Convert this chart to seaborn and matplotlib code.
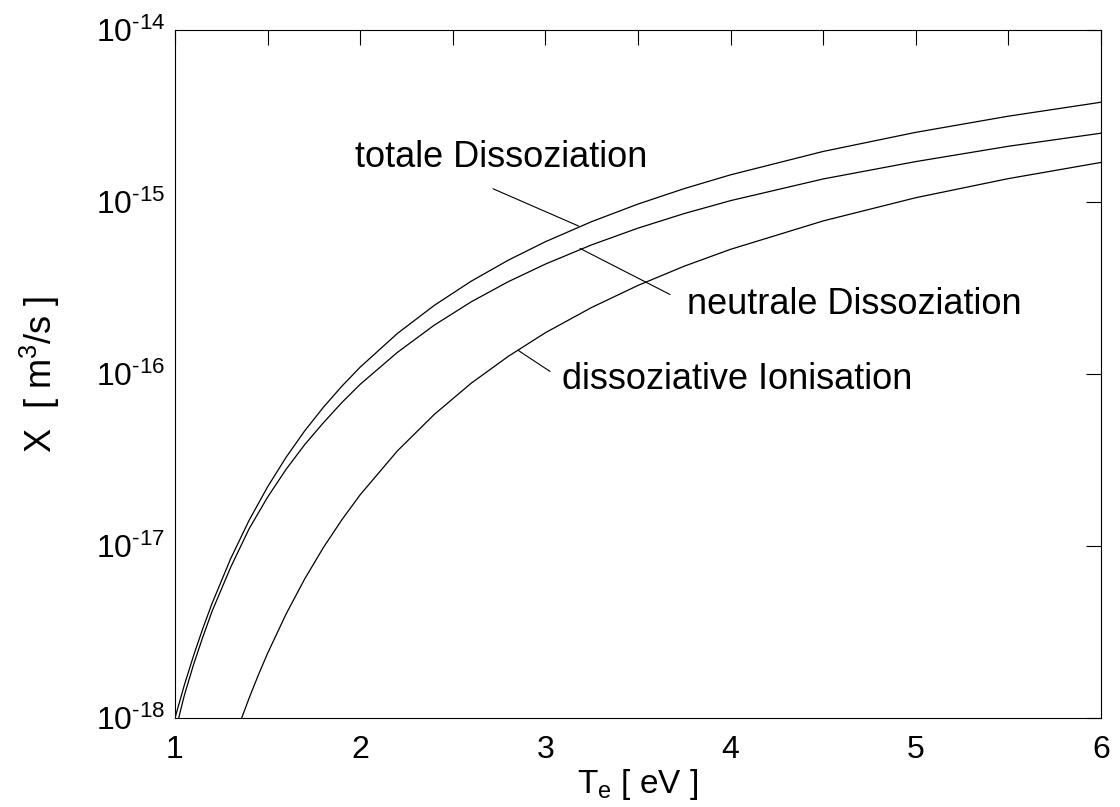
import numpy as np
import pandas as pd
import matplotlib
matplotlib.use("Agg")
import matplotlib.pyplot as plt
import seaborn as sns
from matplotlib.ticker import MultipleLocator, FixedLocator, FixedFormatter, NullLocator

# ---------------- data ----------------
# electron temperature T_e [eV] and log10 of the rate coefficient X [m^3/s]
te_total = [1.00, 1.05, 1.10, 1.15, 1.20, 1.30, 1.40, 1.50, 1.60, 1.70, 1.80, 1.90, 2.00,
            2.20, 2.40, 2.60, 2.80, 3.00, 3.25, 3.50, 3.75, 4.00, 4.50, 5.00, 5.50, 6.00]
log_total = [-18.000, -17.810, -17.638, -17.480, -17.334, -17.075, -16.851, -16.656, -16.484,
             -16.331, -16.195, -16.072, -15.960, -15.765, -15.601, -15.460, -15.338, -15.231,
             -15.114, -15.012, -14.922, -14.842, -14.706, -14.595, -14.501, -14.420]

te_neutral = [1.02, 1.05, 1.10, 1.15, 1.20, 1.30, 1.40, 1.50, 1.60, 1.70, 1.80, 1.90, 2.00,
              2.20, 2.40, 2.60, 2.80, 3.00, 3.25, 3.50, 3.75, 4.00, 4.50, 5.00, 5.50, 6.00]
log_neutral = [-18.000, -17.870, -17.690, -17.530, -17.380, -17.125, -16.900, -16.716, -16.554,
               -16.411, -16.285, -16.167, -16.060, -15.875, -15.716, -15.580, -15.463, -15.361,
               -15.249, -15.152, -15.067, -14.992, -14.866, -14.765, -14.676, -14.600]

te_ion = [1.36, 1.40, 1.45, 1.50, 1.60, 1.70, 1.80, 1.90, 2.00, 2.20, 2.40, 2.60, 2.80,
          3.00, 3.25, 3.50, 3.75, 4.00, 4.50, 5.00, 5.50, 6.00]
log_ion = [-18.000, -17.885, -17.750, -17.624, -17.395, -17.192, -17.011, -16.849, -16.702,
           -16.448, -16.235, -16.053, -15.897, -15.760, -15.613, -15.485, -15.373, -15.275,
           -15.110, -14.975, -14.864, -14.770]

series_names = ["totale Dissoziation", "neutrale Dissoziation", "dissoziative Ionisation"]

x_ticks = [1, 2, 3, 4, 5, 6]
x_tick_labels = ["1", "2", "3", "4", "5", "6"]
y_ticks = [1e-18, 1e-17, 1e-16, 1e-15, 1e-14]
y_tick_labels = [r"$\mathregular{10^{\text{-}18}}$", r"$\mathregular{10^{\text{-}17}}$",
                 r"$\mathregular{10^{\text{-}16}}$", r"$\mathregular{10^{\text{-}15}}$",
                 r"$\mathregular{10^{\text{-}14}}$"]

x_label = r"T$_\mathregular{e}$ [ eV ]"
y_label = r"X  [ m$^\mathregular{3}$/s ]"

# ---------------- table ----------------
frames = []
for name, te, lg in zip(series_names,
                        [te_total, te_neutral, te_ion],
                        [log_total, log_neutral, log_ion]):
    frames.append(pd.DataFrame({"Te": te, "X": 10.0 ** np.array(lg), "Prozess": name}))
df = pd.concat(frames, ignore_index=True)

# ---------------- style ----------------
sns.set_style("white")
plt.rcParams["font.family"] = ["Liberation Sans", "DejaVu Sans"]
plt.rcParams["mathtext.fontset"] = "custom"
plt.rcParams["mathtext.rm"] = "Liberation Sans"
plt.rcParams["mathtext.it"] = "Liberation Sans:italic"
plt.rcParams["mathtext.bf"] = "Liberation Sans:bold"
for key in ["text.color", "axes.labelcolor", "xtick.color", "ytick.color", "axes.edgecolor"]:
    plt.rcParams[key] = "black"

fig = plt.figure(figsize=(11.2, 8.07), dpi=100)
ax = fig.add_axes([175 / 1120, 1 - 718 / 807, 926 / 1120, 688 / 807])

sns.lineplot(data=df, x="Te", y="X", hue="Prozess", palette=["black"] * 3,
             estimator=None, sort=True, legend=False, linewidth=0.9, ax=ax)

ax.set_yscale("log")
ax.set_xlim(1, 6)
ax.set_ylim(1e-18, 1e-14)

ax.xaxis.set_major_locator(FixedLocator(x_ticks))
ax.xaxis.set_major_formatter(FixedFormatter(x_tick_labels))
ax.xaxis.set_minor_locator(MultipleLocator(0.5))
ax.yaxis.set_major_locator(FixedLocator(y_ticks))
ax.yaxis.set_major_formatter(FixedFormatter(y_tick_labels))
ax.yaxis.set_minor_locator(NullLocator())

ax.tick_params(axis="both", which="both", direction="in", top=True, right=True,
               length=11, width=0.8, color="black")
ax.tick_params(axis="x", which="major", labelsize=23, pad=12, labelcolor="black")
ax.tick_params(axis="y", which="major", labelsize=23, pad=7, labelcolor="black")

for s in ax.spines.values():
    s.set_linewidth(0.8)
    s.set_color("black")

ax.set_xlabel(x_label, fontsize=24, labelpad=2, color="black")
ax.set_ylabel(y_label, fontsize=26, labelpad=24, color="black")

# ---------------- annotations ----------------
def L(v):
    return 10.0 ** v

line_kw = dict(arrowstyle="-", color="black", lw=0.8, shrinkA=0, shrinkB=0)
ax.annotate("", xy=(3.18, L(-15.14)), xytext=(2.717, L(-14.923)), arrowprops=line_kw)
ax.annotate("", xy=(3.673, L(-15.538)), xytext=(3.187, L(-15.27)), arrowprops=line_kw)
ax.annotate("", xy=(3.025, L(-15.985)), xytext=(2.852, L(-15.862)), arrowprops=line_kw)

ax.text(1.972, L(-14.743), series_names[0], fontsize=26, ha="left", va="center", color="black")
ax.text(3.765, L(-15.596), series_names[1], fontsize=26, ha="left", va="center", color="black")
ax.text(3.090, L(-16.031), series_names[2], fontsize=26, ha="left", va="center", color="black")

ax.set_facecolor("white")
fig.patch.set_facecolor("white")
fig.savefig("out.png", dpi=100)
